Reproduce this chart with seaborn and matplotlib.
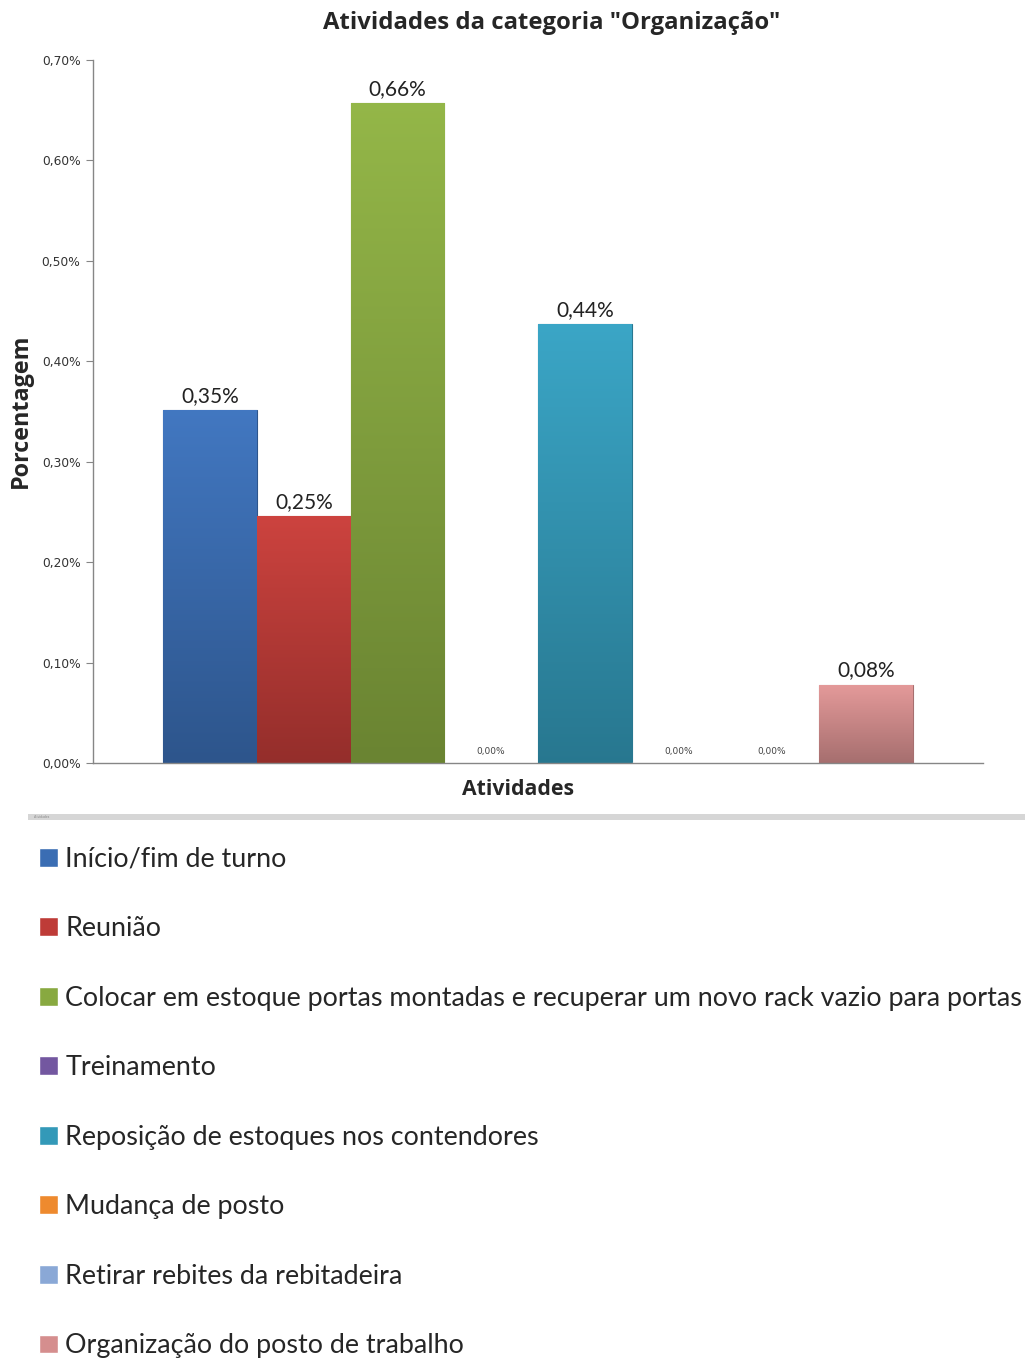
import numpy as np
import pandas as pd
import matplotlib
matplotlib.use("Agg")
import matplotlib.pyplot as plt
import seaborn as sns
from matplotlib.colors import LinearSegmentedColormap, to_rgb
from matplotlib.patches import Rectangle

categories = [
    "Início/fim de turno",
    "Reunião",
    "Colocar em estoque portas montadas e recuperar um novo rack vazio para portas",
    "Treinamento",
    "Reposição de estoques nos contendores",
    "Mudança de posto",
    "Retirar rebites da rebitadeira",
    "Organização do posto de trabalho",
]
values = [0.351, 0.246, 0.657, 0.0, 0.437, 0.0, 0.0, 0.078]
yticks = [0.0, 0.1, 0.2, 0.3, 0.4, 0.5, 0.6, 0.7]
colors = ["#3A6DB3", "#BE3B37", "#88A940", "#7357A0", "#3399B8", "#EE8A2E", "#8AA8D6", "#D58E8E"]

sns.set_style("white")
plt.rcParams["font.family"] = ["Lato", "DejaVu Sans"]

fig = plt.figure(figsize=(10.25, 13.58), dpi=100)
ax = fig.add_axes([93/1025, 1-763/1358, (983-93)/1025, (763-60)/1358])

df = pd.DataFrame({"grp": [""]*len(categories), "val": values, "cat": categories})
sns.barplot(data=df, x="grp", y="val", hue="cat", hue_order=categories,
            palette=colors, width=0.842, saturation=1, ax=ax, legend=True)

ax.set_ylim(0, 0.7)
ax.set_xlim(-0.5, 0.5)

# gradient fill for bars
for patch, c in zip(ax.patches[:len(categories)], colors):
    h = patch.get_height()
    if h <= 0:
        continue
    x0 = patch.get_x(); w = patch.get_width()
    base = np.array(to_rgb(c))
    light = np.clip(base*1.05 + 0.02, 0, 1)
    dark = base*0.78
    cmap = LinearSegmentedColormap.from_list("g", [dark, light])
    grad = np.linspace(1, 0, 256).reshape(-1, 1)
    im = ax.imshow(grad, extent=[x0, x0+w, 0, h], aspect="auto", cmap=cmap,
                   zorder=patch.get_zorder()+0.1, origin="upper")
    im.set_clip_path(patch)
    patch.set_edgecolor(dark)
    patch.set_linewidth(0.8)
ax.set_xlim(-0.5, 0.5)
ax.set_ylim(0, 0.7)
ax.set_aspect("auto")

# value labels
for cont, v in zip(ax.containers, values):
    lab = f"{v:.2f}".replace(".", ",") + "%"
    if v > 0:
        ax.bar_label(cont, labels=[lab], padding=3, fontsize=15, color="#222222")
    else:
        ax.bar_label(cont, labels=[lab], padding=5, fontsize=6.5, color="#444444",
                     family="DejaVu Sans")

ax.set_yticks(yticks)
ax.set_yticklabels([f"{t:.2f}".replace(".", ",") + "%" for t in yticks], fontsize=8.8,
                   color="#333333", family="DejaVu Sans")
ax.set_xticks([])
ax.tick_params(axis="y", direction="out", length=5, width=0.8, color="#868686", left=True, pad=4)
for s in ["top", "right"]:
    ax.spines[s].set_visible(False)
for s in ["left", "bottom"]:
    ax.spines[s].set_color("#868686")
    ax.spines[s].set_linewidth(1.0)

ax.set_ylabel("Porcentagem", fontsize=16.8, fontweight="bold", family="Open Sans")
ax.yaxis.set_label_coords(-60/890, (763-411)/703)
ax.set_xlabel("Atividades", fontsize=15.3, fontweight="bold", family="Open Sans")
ax.xaxis.set_label_coords((518-93)/890, -16/703)
fig.text(552/1025, 1-23/1358, 'Atividades da categoria "Organização"', ha="center", va="center",
         fontsize=17.2, fontweight="bold", family="Open Sans")

# separator band
fig.patches.append(Rectangle((28/1025, 1-820/1358), 1-28/1025, 6/1358, transform=fig.transFigure,
                             facecolor="#D6D6D6", edgecolor="none"))
fig.text(34/1025, 1-817/1358, "Atividades", fontsize=2.5, color="#888888", va="center")

# legend
handles, labels = ax.get_legend_handles_labels()
ax.get_legend().remove()
leg = fig.legend(handles, labels, loc="upper left", bbox_to_anchor=(28/1025, 1-836/1358),
                 frameon=False, fontsize=19.4, handlelength=0.7, handleheight=0.7,
                 handletextpad=0.28, labelspacing=1.652, borderaxespad=0)

fig.savefig("out.png", dpi=100)
